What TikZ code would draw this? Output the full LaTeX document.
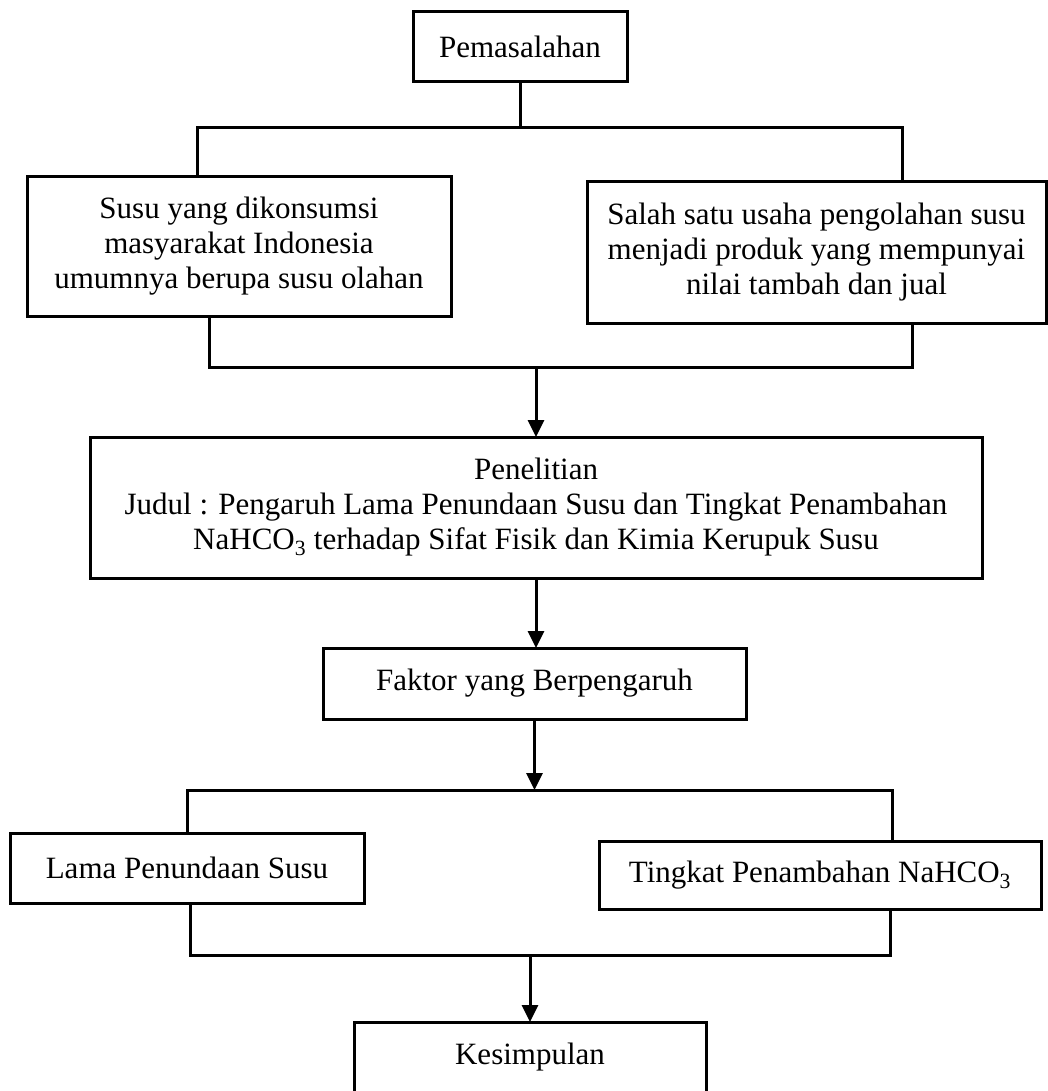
\documentclass[tikz,border=0pt]{standalone}
\usepackage{fontspec}
\setmainfont{Liberation Serif}
\usepackage{tikz}
\usetikzlibrary{arrows.meta}

\begin{document}
\begin{tikzpicture}[x=1pt,y=-1pt,line width=3pt,
                    box node/.style={rectangle, draw, inner sep=0pt, outer sep=0pt, align=center,
                                     font=\fontsize{31}{35}\selectfont},
                    flow arrow/.style={-{Triangle[length=17pt,width=16pt]}}]
  \useasboundingbox (0,0) rectangle (1048,1091);

  %Boxes%
  \node[box node, minimum width=214, minimum height=70] (1) at (520,47) {Pemasalahan};
  \node[box node, minimum width=424, minimum height=139] (2) at (239,246.5)
    {Susu yang dikonsumsi\\masyarakat Indonesia\\umumnya berupa susu olahan};
  \node[box node, minimum width=459, minimum height=141] (3) at (816.5,252.5)
    {Salah satu usaha pengolahan susu\\menjadi produk yang mempunyai\\nilai tambah dan jual};
  \node[box node, minimum width=892, minimum height=141] (4) at (536,507.5)
    {Penelitian\\Judul : Pengaruh Lama Penundaan Susu dan Tingkat Penambahan\\
     NaHCO\textsubscript{3} terhadap Sifat Fisik dan Kimia Kerupuk Susu};
  \node[box node, minimum width=423, minimum height=71] (5) at (534.5,683.5) {Faktor yang Berpengaruh};
  \node[box node, minimum width=354, minimum height=70] (6) at (187,868) {Lama Penundaan Susu};
  \node[box node, minimum width=442, minimum height=68] (7) at (820,875) {Tingkat Penambahan NaHCO\textsubscript{3}};
  \node[box node, minimum width=352, minimum height=71] (8) at (530,1057.5) {Kesimpulan};

  %Bars%
  \coordinate (a1) at (197,128);
  \coordinate (a2) at (902,128);
  \coordinate (b1) at (209,367);
  \coordinate (b2) at (912,367);
  \coordinate (c1) at (187,790);
  \coordinate (c2) at (892,790);
  \coordinate (d1) at (190,955);
  \coordinate (d2) at (890,955);

  %Connectors%
  \draw (1) -- (1 |- a1);
  \draw (2.north -| a1) -- (a1) -- (a2) -- (a2 |- 3.north);
  \draw (b1 |- 2.south) -- (b1) -- (b2) -- (b2 |- 3.south);
  \draw[flow arrow] (4 |- b1) -- (4.north);
  \draw[flow arrow] (4) -- (4 |- 5.north);
  \draw[flow arrow] (5) -- (5 |- c1);
  \draw (6.north -| c1) -- (c1) -- (c2) -- (c2 |- 7.north);
  \draw (d1 |- 6.south) -- (d1) -- (d2) -- (d2 |- 7.south);
  \draw[flow arrow] (8 |- d1) -- (8.north);
\end{tikzpicture}
\end{document}
